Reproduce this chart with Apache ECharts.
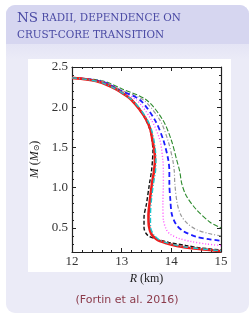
<!DOCTYPE html>
<html>
<head>
<meta charset="utf-8">
<script src="https://cdn.jsdelivr.net/npm/echarts@6/dist/echarts.min.js"></script>
<style>
  html, body { margin: 0; padding: 0; background: #fff; }
  #chart { width: 249px; height: 316px; }
</style>
</head>
<body>
<div id="chart"></div>
<script>
// M-R curves, [R (km), M (Msun)]
const blackDashed = [[12.0,2.365],[12.3,2.345],[12.6,2.305],[12.9,2.22],[13.1,2.14],[13.2,2.09],[13.35,1.98],[13.49,1.84],[13.57,1.72],[13.61,1.59],[13.63,1.46],[13.62,1.34],[13.6,1.2],[13.56,1.05],[13.5,0.8],[13.45,0.63],[13.45,0.5],[13.52,0.41],[13.7,0.36],[13.95,0.32],[14.3,0.28],[14.6,0.25],[15.0,0.225]];
const redSolid = [[12.0,2.365],[12.3,2.345],[12.6,2.305],[12.9,2.22],[13.1,2.14],[13.2,2.09],[13.35,1.98],[13.5,1.84],[13.58,1.72],[13.62,1.59],[13.66,1.46],[13.67,1.34],[13.65,1.2],[13.61,1.05],[13.57,0.85],[13.54,0.65],[13.55,0.52],[13.6,0.42],[13.72,0.35],[13.9,0.31],[14.2,0.265],[14.6,0.235],[15.0,0.21]];
const cyanDashDot = [[12.0,2.365],[12.3,2.345],[12.6,2.305],[12.9,2.22],[13.1,2.14],[13.21,2.09],[13.37,1.98],[13.52,1.84],[13.6,1.72],[13.65,1.59],[13.68,1.46],[13.69,1.34],[13.68,1.2],[13.64,1.05],[13.6,0.85],[13.58,0.65],[13.58,0.52],[13.64,0.42],[13.76,0.35],[13.93,0.31],[14.25,0.265],[14.6,0.24],[15.0,0.215]];
const magentaDotted = [[12.0,2.365],[12.6,2.315],[13.0,2.18],[13.3,2.09],[13.6,1.84],[13.77,1.59],[13.83,1.34],[13.84,1.2],[13.84,1.05],[13.83,0.8],[13.84,0.6],[13.9,0.48],[13.98,0.42],[14.15,0.37],[14.4,0.33],[14.7,0.3],[15.0,0.28]];
const blueDashed = [[12.0,2.365],[12.6,2.32],[13.0,2.2],[13.37,2.09],[13.67,1.84],[13.84,1.59],[13.94,1.34],[13.96,1.2],[13.96,1.05],[13.98,0.85],[14.01,0.67],[14.1,0.54],[14.24,0.46],[14.5,0.39],[14.75,0.36],[15.0,0.34]];
const greyDashDot = [[12.0,2.365],[12.6,2.325],[13.0,2.21],[13.44,2.09],[13.77,1.84],[13.93,1.59],[14.03,1.34],[14.06,1.2],[14.07,1.05],[14.12,0.8],[14.2,0.65],[14.33,0.55],[14.5,0.48],[14.75,0.43],[15.0,0.4]];
const greenDashed = [[12.0,2.365],[12.6,2.33],[13.0,2.23],[13.5,2.09],[13.83,1.84],[14.0,1.59],[14.11,1.34],[14.17,1.2],[14.21,1.05],[14.3,0.9],[14.5,0.73],[14.78,0.57],[15.0,0.5]];

const yLabels = [0.5, 1.0, 1.5, 2.0, 2.5];

const serif = '"Liberation Serif", "DejaVu Serif", serif';
const titleFont = '"DejaVu Serif", serif';

const chart = echarts.init(document.getElementById('chart'));

const axisLine = { show: true, lineStyle: { color: '#222', width: 1.2 } };

function line(data, color, width, type, z) {
  return {
    type: 'line',
    data: data,
    showSymbol: false,
    smooth: 0.3,
    z: z,
    lineStyle: { color: color, width: width, type: type },
    emphasis: { disabled: true }
  };
}

chart.setOption({
  animation: false,
  graphic: [
    { type: 'rect', z: -10, shape: { x: 6, y: 5, width: 243, height: 308, r: 9 }, style: { fill: '#ebebf7' } },
    { type: 'rect', z: -9, shape: { x: 6, y: 5, width: 243, height: 39, r: [9, 9, 0, 0] }, style: { fill: '#d6d6f0' } },
    { type: 'rect', z: -9, shape: { x: 6, y: 44, width: 243, height: 15 },
      style: { fill: new echarts.graphic.LinearGradient(0, 0, 0, 1, [{ offset: 0, color: '#e4e4f5' }, { offset: 1, color: '#ebebf7' }]) } },
    { type: 'rect', z: -8, shape: { x: 28, y: 59, width: 203, height: 213 }, style: { fill: '#ffffff' } },
    { type: 'text', z: 5, x: 17, y: 10,
      style: {
        text: '{b|NS} {s|RADII, DEPENDENCE ON}\n{s|CRUST-CORE TRANSITION}',
        fill: '#4a4aa4',
        rich: {
          b: { fontFamily: titleFont, fontSize: 13.5, lineHeight: 17, fill: '#4a4aa4' },
          s: { fontFamily: titleFont, fontSize: 10.4, lineHeight: 17, fill: '#4a4aa4' }
        }
      }
    },
    { type: 'text', z: 5, x: 127, y: 300,
      style: { text: '(Fortin et al. 2016)', fill: '#8b3a4a', fontFamily: '"DejaVu Sans", sans-serif', fontSize: 11,
        align: 'center', verticalAlign: 'middle' } }
  ],
  grid: { left: 72, right: 28, top: 67, bottom: 64 },
  xAxis: [
    {
      type: 'value', min: 12, max: 15, interval: 1, position: 'bottom',
      axisLine: axisLine,
      axisTick: { inside: true, length: 4, lineStyle: { color: '#222' } },
      minorTick: { show: true, splitNumber: 5, length: 2, lineStyle: { color: '#222' } },
      splitLine: { show: false },
      axisLabel: { color: '#333', fontFamily: serif, fontSize: 13, margin: 3 },
      name: '{i|R} (km)', nameLocation: 'middle', nameGap: 17,
      nameTextStyle: { color: '#222', fontFamily: serif, fontSize: 12,
        rich: { i: { fontFamily: serif, fontStyle: 'italic', fontSize: 12, color: '#222' } } }
    },
    {
      type: 'value', min: 12, max: 15, interval: 1, position: 'top',
      axisLine: axisLine,
      axisTick: { inside: true, length: 4, lineStyle: { color: '#222' } },
      minorTick: { show: true, splitNumber: 5, length: 2, lineStyle: { color: '#222' } },
      splitLine: { show: false }, axisLabel: { show: false }
    }
  ],
  yAxis: [
    {
      type: 'value', min: 0.2, max: 2.5, position: 'left',
      axisLine: axisLine,
      axisTick: { inside: true, length: 4, customValues: yLabels, lineStyle: { color: '#222' } },
      splitLine: { show: false },
      axisLabel: { customValues: yLabels, color: '#333', fontFamily: serif, fontSize: 13, margin: 4,
        formatter: v => v.toFixed(1) },
      name: '{i|M} ({i|M}{s|⊙})', nameLocation: 'middle', nameGap: 31, nameRotate: 90,
      nameTextStyle: { color: '#222', fontFamily: serif, fontSize: 12,
        rich: {
          i: { fontFamily: serif, fontStyle: 'italic', fontSize: 12, color: '#222' },
          s: { fontFamily: serif, fontSize: 8, color: '#222', verticalAlign: 'bottom', padding: [4, 0, 0, 0] }
        } }
    },
    {
      type: 'value', min: 0.2, max: 2.5, interval: 0.1, position: 'left',
      axisLine: { show: false },
      axisTick: { inside: true, length: 2, lineStyle: { color: '#222' } },
      splitLine: { show: false }, axisLabel: { show: false }
    },
    {
      type: 'value', min: 0.2, max: 2.5, position: 'right',
      axisLine: axisLine,
      axisTick: { inside: true, length: 4, customValues: yLabels, lineStyle: { color: '#222' } },
      splitLine: { show: false }, axisLabel: { show: false }
    },
    {
      type: 'value', min: 0.2, max: 2.5, interval: 0.1, position: 'right',
      axisLine: { show: false },
      axisTick: { inside: true, length: 2, lineStyle: { color: '#222' } },
      splitLine: { show: false }, axisLabel: { show: false }
    }
  ],
  series: [
    line(greenDashed, '#2e8b2e', 1.1, [5, 2], 2),
    line(greyDashDot, '#9a9a9a', 1.2, [4, 2, 1, 2], 2),
    line(blueDashed, '#1c1cff', 1.8, [5, 3], 2),
    line(magentaDotted, '#ff4dff', 1.4, [1, 2], 2),
    line(blackDashed, '#111111', 1.4, [4, 2], 3),
    line(redSolid, '#ee1c1c', 2.6, 'solid', 4),
    line(cyanDashDot, '#1cc4cc', 1.4, [5, 2, 1, 2], 5)
  ]
});
</script>
</body>
</html>
